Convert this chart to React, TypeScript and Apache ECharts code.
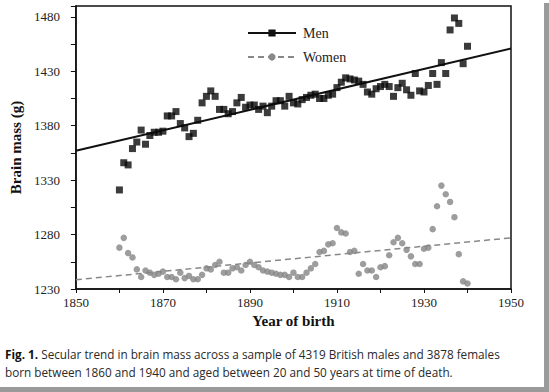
import React, { useEffect, useRef } from "react";
import * as echarts from "echarts";

const years = [
  1860, 1861, 1862, 1863, 1864, 1865, 1866, 1867, 1868, 1869,
  1870, 1871, 1872, 1873, 1874, 1875, 1876, 1877, 1878, 1879,
  1880, 1881, 1882, 1883, 1884, 1885, 1886, 1887, 1888, 1889,
  1890, 1891, 1892, 1893, 1894, 1895, 1896, 1897, 1898, 1899,
  1900, 1901, 1902, 1903, 1904, 1905, 1906, 1907, 1908, 1909,
  1910, 1911, 1912, 1913, 1914, 1915, 1916, 1917, 1918, 1919,
  1920, 1921, 1922, 1923, 1924, 1925, 1926, 1927, 1928, 1929,
  1930, 1931, 1932, 1933, 1934, 1935, 1936, 1937, 1938, 1939,
  1940,
];

const menMass = [
  1321, 1346, 1344, 1359, 1365, 1376, 1363, 1371, 1374, 1374,
  1375, 1389, 1389, 1393, 1382, 1378, 1370, 1373, 1385, 1401,
  1407, 1412, 1407, 1395, 1395, 1391, 1393, 1401, 1406, 1397,
  1399, 1399, 1395, 1398, 1392, 1398, 1403, 1403, 1398, 1407,
  1401, 1400, 1404, 1406, 1408, 1409, 1405, 1405, 1408, 1409,
  1415, 1420, 1424, 1423, 1422, 1421, 1418, 1411, 1409, 1414,
  1416, 1418, 1416, 1407, 1415, 1419, 1413, 1408, 1428, 1412,
  1411, 1417, 1428, 1418, 1438, 1428, 1468, 1479, 1474, 1437,
  1453,
];

const womenMass = [
  1268, 1277, 1263, 1259, 1248, 1241, 1247, 1245, 1243, 1244,
  1246, 1241, 1241, 1239, 1245, 1240, 1242, 1239, 1239, 1243,
  1249, 1248, 1252, 1255, 1245, 1245, 1249, 1250, 1247, 1252,
  1255, 1252, 1250, 1247, 1246, 1245, 1244, 1243, 1243, 1241,
  1245, 1241, 1241, 1245, 1249, 1253, 1264, 1265, 1271, 1272,
  1286, 1282, 1281, 1264, 1265, 1244, 1253, 1247, 1247, 1241,
  1250, 1251, 1261, 1273, 1277, 1272, 1266, 1260, 1253, 1253,
  1267, 1268, 1285, 1306, 1325, 1317, 1310, 1296, 1262, 1237,
  1235,
];

const menTrendYears = [1850, 1950];
const menTrendMass = [1357, 1451];
const womenTrendYears = [1850, 1950];
const womenTrendMass = [1238.5, 1277];

const xLabelYears = [1850, 1870, 1890, 1910, 1930, 1950];
const yLabelValues = [1230, 1280, 1330, 1380, 1430, 1480];

const captionLine1 =
  "Secular trend in brain mass across a sample of 4319 British males and 3878 females";
const captionLine2 =
  "born between 1860 and 1940 and aged between 20 and 50 years at time of death.";

const serif = "'Liberation Serif', 'Times New Roman', serif";
const sans = "'Open Sans', 'Noto Sans', sans-serif";

export default function App() {
  const ref = useRef<HTMLDivElement>(null);

  useEffect(() => {
    if (!ref.current) return;
    const chart = echarts.init(ref.current, undefined, { renderer: "svg" });

    const menPoints = years.map((y, i) => [y, menMass[i]]);
    const womenPoints = years.map((y, i) => [y, womenMass[i]]);
    const menTrend = menTrendYears.map((y, i) => [y, menTrendMass[i]]);
    const womenTrend = womenTrendYears.map((y, i) => [y, womenTrendMass[i]]);

    chart.setOption({
      animation: false,
      backgroundColor: "#ffffff",
      grid: {
        left: 69,
        right: 38,
        top: 6,
        bottom: 103,
        show: true,
        borderColor: "#111",
        borderWidth: 1.5,
        containLabel: false,
      },
      legend: {
        orient: "vertical",
        left: 242,
        top: 21,
        itemWidth: 48,
        itemHeight: 9,
        itemGap: 10,
        selectedMode: false,
        data: ["Men", "Women"],
        textStyle: { fontFamily: serif, fontSize: 14, color: "#222", padding: [0, 0, 0, 2] },
      },
      xAxis: {
        type: "value",
        min: 1850,
        max: 1950,
        interval: 10,
        splitLine: { show: false },
        axisLine: { lineStyle: { color: "#111", width: 1.5 } },
        axisTick: { show: true, length: 4, lineStyle: { color: "#111", width: 1 } },
        axisLabel: {
          margin: 7,
          fontFamily: serif,
          fontSize: 13,
          color: "#222",
          formatter: (v: number) => (xLabelYears.indexOf(v) >= 0 ? String(v) : ""),
        },
        name: "Year of birth",
        nameLocation: "middle",
        nameGap: 23,
        nameTextStyle: { fontFamily: serif, fontSize: 15, fontWeight: "bold", color: "#111" },
      },
      yAxis: {
        type: "value",
        min: 1230,
        max: 1490,
        interval: 25,
        splitLine: { show: false },
        axisLine: { lineStyle: { color: "#111", width: 1.5 } },
        axisTick: { show: true, length: 5, lineStyle: { color: "#111", width: 1 } },
        axisLabel: {
          margin: 16,
          fontFamily: serif,
          fontSize: 13,
          color: "#222",
          formatter: (v: number) => (yLabelValues.indexOf(v) >= 0 ? String(v) : ""),
        },
        name: "Brain mass (g)",
        nameLocation: "middle",
        nameGap: 45,
        nameTextStyle: { fontFamily: serif, fontSize: 15, fontWeight: "bold", color: "#111" },
      },
      series: [
        {
          name: "Men",
          type: "line",
          data: menTrend,
          symbol: "rect",
          showSymbol: false,
          itemStyle: { color: "#111" },
          lineStyle: { color: "#111", width: 2 },
          z: 3,
        },
        {
          name: "Women",
          type: "line",
          data: womenTrend,
          symbol: "circle",
          showSymbol: false,
          itemStyle: { color: "#888" },
          lineStyle: { color: "#888", width: 1.5, type: [6, 4] },
          z: 3,
        },
        {
          name: "Men points",
          type: "scatter",
          data: menPoints,
          symbol: "rect",
          symbolSize: 7,
          itemStyle: { color: "#0a0a0a" },
          z: 4,
        },
        {
          name: "Women points",
          type: "scatter",
          data: womenPoints,
          symbol: "circle",
          symbolSize: 6.5,
          itemStyle: { color: "#858585" },
          z: 4,
        },
      ],
      graphic: [
        {
          type: "rect",
          shape: { x: 544, y: 3, width: 5, height: 389 },
          style: { fill: "#9a9a9a" },
          silent: true,
        },
        {
          type: "rect",
          shape: { x: 0, y: 387, width: 549, height: 5 },
          style: { fill: "#9a9a9a" },
          silent: true,
        },
        {
          type: "text",
          left: 5,
          top: 348,
          style: {
            text: "{b|Fig. 1.} " + captionLine1,
            fontFamily: sans,
            fontSize: 11.75,
            fill: "#2a2a2a",
            rich: {
              b: { fontFamily: sans, fontSize: 11.75, fontWeight: "bold", fill: "#111" },
            },
          },
        },
        {
          type: "text",
          left: 5,
          top: 366,
          style: {
            text: captionLine2,
            fontFamily: sans,
            fontSize: 11.75,
            fill: "#2a2a2a",
          },
        },
      ],
    });

    return () => chart.dispose();
  }, []);

  return (
    <div
      style={{ position: "absolute", left: 0, top: 0, width: 549, height: 392, background: "#fff" }}
    >
      <div ref={ref} style={{ width: 549, height: 392 }} />
    </div>
  );
}
